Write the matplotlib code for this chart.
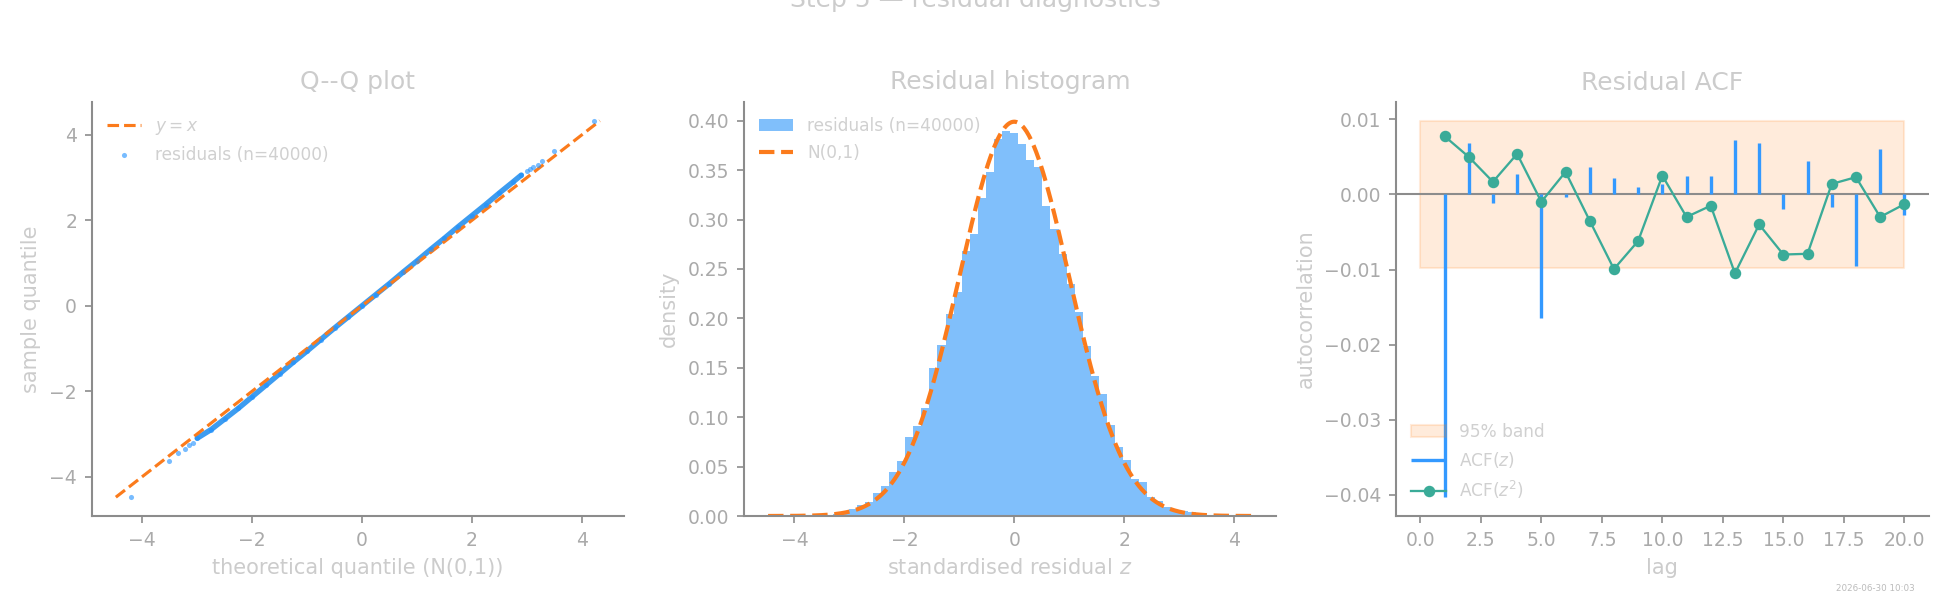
# Step 5 residual diagnostics: Q-Q plot, histogram and ACF
import numpy as np
import matplotlib
matplotlib.use("Agg")
import matplotlib.pyplot as plt

# ---------------- data ----------------
n_resid = 40000
z_min, z_max = -4.48, 4.33

# Q-Q: theoretical vs sample quantiles along the dense band + tail points
qq_theo = [-4.21, -3.52, -3.34, -3.23, -3.15, -3.08, -3.00, -2.75, -2.50, -2.25,
           -2.00, -1.75, -1.50, -1.25, -1.00, -0.75, -0.50, -0.25, 0.00, 0.25,
           0.50, 0.75, 1.00, 1.25, 1.50, 1.75, 2.00, 2.25, 2.50, 2.75,
           2.90, 3.00, 3.06, 3.12, 3.20, 3.28, 3.49, 4.22]
qq_samp = [-4.48, -3.64, -3.44, -3.36, -3.26, -3.20, -3.10, -2.90, -2.65, -2.40,
           -2.13, -1.86, -1.59, -1.32, -1.06, -0.79, -0.52, -0.26, 0.00, 0.26,
           0.52, 0.79, 1.05, 1.32, 1.58, 1.85, 2.11, 2.37, 2.64, 2.90,
           3.06, 3.15, 3.20, 3.24, 3.30, 3.38, 3.62, 4.33]
qq_band = slice(6, 31)   # the part that shows as a continuous band

# histogram: 60 bins between z_min and z_max, density per bin
hist_density = [0.00017, 0.0, 0.0, 0.0, 0.0, 0.00017, 0.0005, 0.0012, 0.0025, 0.004,
                0.0067, 0.011, 0.0145, 0.023, 0.030, 0.045, 0.056, 0.080, 0.091, 0.109,
                0.150, 0.173, 0.2045, 0.227, 0.268, 0.2855, 0.322, 0.348, 0.381, 0.390,
                0.3875, 0.3766, 0.360, 0.353, 0.314, 0.290, 0.265, 0.235, 0.2065, 0.172,
                0.1417, 0.1235, 0.092, 0.070, 0.0567, 0.0375, 0.0344, 0.0192, 0.0152, 0.0091,
                0.0061, 0.005, 0.0037, 0.002, 0.0012, 0.0007, 0.0003, 0.00017, 0.0, 0.00017]

# ACF
lags = list(range(1, 21))
acf_z = [-0.0403, 0.00687, -0.0011, 0.00275, -0.0164, -0.00035, 0.00368, 0.0022, 0.0010, 0.0014,
         0.0024, 0.0024, 0.00727, 0.0068, -0.0019, 0.0044, -0.0017, -0.0095, 0.0060, -0.0027]
acf_z2 = [0.00776, 0.0050, 0.00168, 0.0054, -0.00098, 0.0030, -0.0035, -0.00993, -0.0062, 0.0025,
          -0.0030, -0.0015, -0.0105, -0.0040, -0.0080, -0.0079, 0.0014, 0.0023, -0.0030, -0.0013]
band_95 = 0.0098   # 1.96 / sqrt(n)

# ---------------- style ----------------
TITLE_C = "#cccccc"
TICK_C = "#aaaaaa"
SPINE_C = "#8c8c8c"
BLUE = "#3399ff"
ORANGE = "#fb7b1c"
TEAL = "#3aab98"

plt.rcParams.update({
    "font.family": "DejaVu Sans",
    "axes.edgecolor": SPINE_C,
    "axes.linewidth": 1.0,
    "xtick.color": SPINE_C,
    "ytick.color": SPINE_C,
    "xtick.labelcolor": TICK_C,
    "ytick.labelcolor": TICK_C,
    "xtick.labelsize": 9,
    "ytick.labelsize": 9,
    "axes.labelcolor": TITLE_C,
    "axes.labelsize": 10,
    "axes.titlesize": 12,
    "axes.titlecolor": TITLE_C,
    "legend.fontsize": 8.2,
    "legend.frameon": False,
    "legend.labelcolor": "#d0d0d0",
})

fig, axes = plt.subplots(1, 3, figsize=(13, 4), dpi=150)
fig.subplots_adjust(left=0.047, right=0.989, bottom=0.14, top=0.83, wspace=0.225)

for ax in axes:
    ax.spines["top"].set_visible(False)
    ax.spines["right"].set_visible(False)

# ---- Q-Q plot ----
ax = axes[0]
ax.plot([z_min, z_max], [z_min, z_max], "--", color=ORANGE, lw=1.5, label="$y = x$")
ax.plot(qq_theo[qq_band], qq_samp[qq_band], color="#3d9cf0", lw=2.6,
        solid_capstyle="round", zorder=1)
ax.scatter(qq_theo, qq_samp, s=6, color="#1e90ff", alpha=0.6, lw=0,
           label=f"residuals (n={n_resid})", zorder=2)
ax.set_title("Q--Q plot")
ax.set_xlabel("theoretical quantile (N(0,1))")
ax.set_ylabel("sample quantile")
ax.legend(loc="upper left")

# ---- histogram ----
ax = axes[1]
edges = np.linspace(z_min, z_max, len(hist_density) + 1)
ax.hist(edges[:-1], bins=edges, weights=hist_density, color="#80bffb",
        label=f"residuals (n={n_resid})")
# reference N(0,1) density curve
xs = np.linspace(z_min, z_max, 400)
ax.plot(xs, np.exp(-xs**2 / 2) / np.sqrt(2 * np.pi), "--", color=ORANGE, lw=2,
        label="N(0,1)")
ax.set_title("Residual histogram")
ax.set_xlabel("standardised residual $z$")
ax.set_ylabel("density")
ax.legend(loc="upper left")

# ---- ACF ----
ax = axes[2]
ax.fill_between([0, 20], -band_95, band_95, color="#ff7f0e", alpha=0.15, label="95% band")
ax.axhline(0, color=SPINE_C, lw=1.0)
ax.vlines(lags, 0, acf_z, color=BLUE, lw=1.6, label="ACF($z$)")
ax.plot(lags, acf_z2, "-o", color=TEAL, lw=1.1, ms=4.5, label="ACF($z^2$)")
ax.set_title("Residual ACF")
ax.set_xlabel("lag")
ax.set_ylabel("autocorrelation")
ax.legend(loc="lower left")

fig.text(0.5, 0.988, "Step 5 — residual diagnostics", ha="center", va="baseline",
         fontsize=12, color=TITLE_C)
fig.text(0.982, 0.012, "2026-06-30 10:03", ha="right", va="bottom",
         fontsize=4.2, color="#bbbbbb")

plt.savefig("out.png", dpi=150)
